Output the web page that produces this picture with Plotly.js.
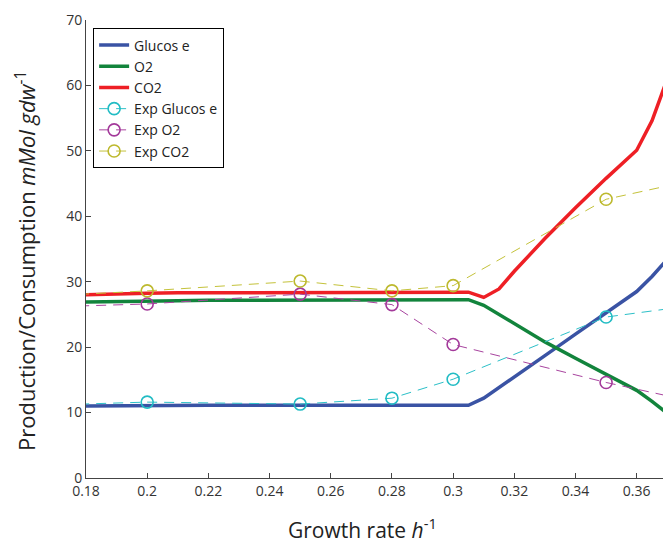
<!DOCTYPE html>
<html><head><meta charset="utf-8">
<script src="https://cdn.plot.ly/plotly-3.0.1.min.js"></script>
<style>html,body{margin:0;padding:0;background:#fff}#chart{width:663px;height:543px}</style>
</head><body><div id="chart"></div>
<script>
// Model (simulated) growth-rate grid and fluxes
const modelRate = [0.18,0.19,0.20,0.21,0.22,0.23,0.24,0.25,0.26,0.27,0.28,0.29,0.30,0.305,0.31,0.315,0.32,0.33,0.34,0.35,0.36,0.365,0.37];
const glucose   = [11.0,11.05,11.1,11.1,11.1,11.1,11.1,11.1,11.1,11.1,11.1,11.1,11.1,11.1,12.2,13.8,15.4,18.7,22.0,25.3,28.5,30.8,33.4];
const o2        = [26.9,27.0,27.1,27.1,27.15,27.15,27.15,27.2,27.2,27.2,27.2,27.25,27.25,27.25,26.4,25.0,23.5,20.8,18.3,15.9,13.4,11.7,9.9];
const co2       = [28.0,28.15,28.25,28.3,28.3,28.3,28.3,28.35,28.35,28.35,28.4,28.4,28.4,28.4,27.6,28.9,31.6,36.6,41.3,45.8,50.1,54.6,61.0];
// Experimental measurements
const expRate    = [0.15,0.20,0.25,0.28,0.30,0.35,0.40];
const expGlucose = [10.9,11.6,11.3,12.2,15.1,24.6,27.7];
const expO2      = [25.9,26.6,28.1,26.5,20.4,14.6,9.5];
const expCO2     = [27.4,28.6,30.1,28.6,29.4,42.6,47.7];
const xTicks = [0.18,0.2,0.22,0.24,0.26,0.28,0.3,0.32,0.34,0.36];
const yTicks = [0,10,20,30,40,50,60,70];
const xTitle = 'Growth rate <i>h</i><sup>-1</sup>';
const yTitle = 'Production/Consumption <i>mMol gdw</i><sup>-1</sup>';

const font = "'Open Sans', 'Noto Sans', sans-serif";
const traces = [
  {x: modelRate, y: glucose, name: 'Glucos e', mode: 'lines', line: {color: '#3a53a4', width: 3.5}},
  {x: modelRate, y: o2, name: 'O2', mode: 'lines', line: {color: '#12843c', width: 3.5}},
  {x: modelRate, y: co2, name: 'CO2', mode: 'lines', line: {color: '#ee1f25', width: 3.5}},
  {x: expRate, y: expGlucose, name: 'Exp Glucos e', mode: 'lines+markers',
   line: {color: '#2cc0c8', width: 1, dash: '10px,7px'},
   marker: {symbol: 'circle-open', size: 12, color: '#22bcc4', line: {width: 1.6}}},
  {x: expRate, y: expO2, name: 'Exp O2', mode: 'lines+markers',
   line: {color: '#a8449f', width: 1, dash: '10px,7px'},
   marker: {symbol: 'circle-open', size: 12, color: '#a3399a', line: {width: 1.6}}},
  {x: expRate, y: expCO2, name: 'Exp CO2', mode: 'lines+markers',
   line: {color: '#c4c23a', width: 1, dash: '10px,7px'},
   marker: {symbol: 'circle-open', size: 12, color: '#bdb92e', line: {width: 1.6}}}
];
const layout = {
  width: 663, height: 543,
  margin: {l: 86, r: 0, t: 20, b: 65},
  paper_bgcolor: '#fff', plot_bgcolor: '#fff',
  font: {family: font, size: 13, color: '#333'},
  showlegend: true,
  legend: {x: 0.012, y: 0.982, xanchor: 'left', yanchor: 'top',
    bgcolor: '#fff', bordercolor: '#000', borderwidth: 1.2,
    entrywidth: 170, entrywidthmode: 'pixels',
    font: {family: font, size: 14, color: '#222'}, tracegroupgap: 0},
  xaxis: {range: [0.18, 0.3686], tickvals: xTicks, ticktext: xTicks.map(String),
    ticks: 'inside', ticklen: 5, tickcolor: '#444', showline: true, linecolor: '#444', linewidth: 1,
    showgrid: false, zeroline: false, tickfont: {size: 14, color: '#333'}},
  yaxis: {range: [0, 70], tickvals: yTicks, ticks: 'inside', ticklen: 5, tickcolor: '#444',
    showline: true, linecolor: '#444', linewidth: 1, showgrid: false, zeroline: false,
    tickfont: {size: 14, color: '#333'}},
  annotations: [
    {text: xTitle, xref: 'paper', yref: 'paper', x: (362-86)/577, y: (478-528)/458,
     xanchor: 'center', yanchor: 'middle', showarrow: false, font: {size: 21, color: '#222'}},
    {text: yTitle, xref: 'paper', yref: 'paper', x: (25-86)/577, y: (478-261)/458, textangle: -90,
     xanchor: 'center', yanchor: 'middle', showarrow: false, font: {size: 22, color: '#222'}}
  ]
};
Plotly.newPlot('chart', traces, layout, {displayModeBar: false, staticPlot: true});
</script></body></html>
